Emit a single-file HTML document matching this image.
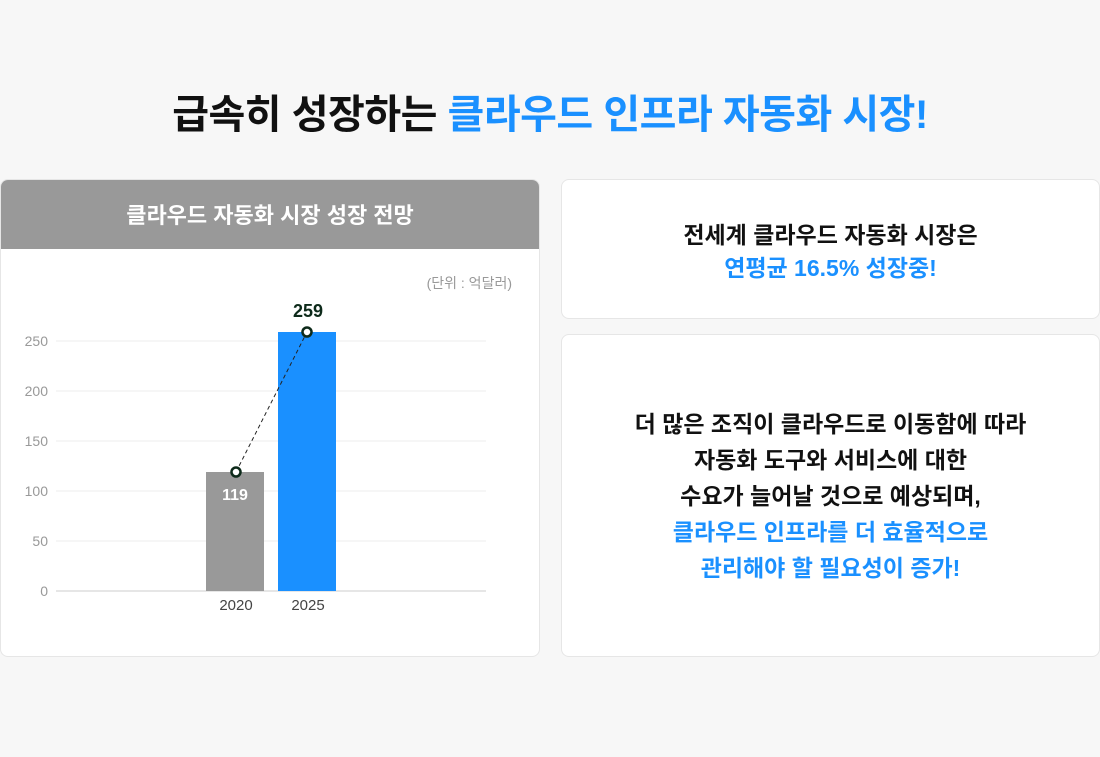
<!DOCTYPE html>
<html><head><meta charset="utf-8"><style>
body{margin:0;width:1100px;height:757px;background:#f7f7f7;font-family:"Liberation Sans","Noto Sans CJK KR",sans-serif;position:relative;overflow:hidden}
.t{position:absolute;left:0;width:1100px;top:82px;text-align:center;font-size:40px;font-weight:bold;color:#111;letter-spacing:-0.5px}
.b{color:#1a90ff}
.card{position:absolute;background:#fff;border:1px solid #e6e6e6;border-radius:8px;box-sizing:border-box;overflow:hidden}
.txt{position:absolute;left:0;right:0;text-align:center;font-weight:bold;color:#111;letter-spacing:0}
</style></head><body>
<div class="t">급속히 성장하는 <span class="b">클라우드 인프라 자동화 시장!</span></div>
<div class="card" style="left:0;top:179px;width:540px;height:478px">
<div style="height:69px;background:#999;color:#fff;font-size:22px;font-weight:bold;text-align:center;line-height:72px">클라우드 자동화 시장 성장 전망</div>
<svg width="540" height="410" style="position:absolute;left:0;top:69px" viewBox="1 249 540 410">
<text x="512" y="288" font-size="14" fill="#999" text-anchor="end" font-family="Liberation Sans,Noto Sans CJK KR,sans-serif">(단위 : 억달러)</text>
<g stroke="#ececec"><line x1="56" x2="486" y1="341" y2="341"/><line x1="56" x2="486" y1="391" y2="391"/><line x1="56" x2="486" y1="441" y2="441"/><line x1="56" x2="486" y1="491" y2="491"/><line x1="56" x2="486" y1="541" y2="541"/></g>
<line x1="56" x2="486" y1="591" y2="591" stroke="#ccc"/>
<g font-size="14" fill="#999" text-anchor="end" font-family="Liberation Sans,sans-serif"><text x="48" y="346">250</text><text x="48" y="396">200</text><text x="48" y="446">150</text><text x="48" y="496">100</text><text x="48" y="546">50</text><text x="48" y="596">0</text></g>
<rect x="206" y="472" width="58" height="119" fill="#999"/>
<rect x="278" y="332" width="58" height="259" fill="#1a90ff"/>
<line x1="236" y1="472" x2="307" y2="332" stroke="#222" stroke-dasharray="4,3"/>
<circle cx="236" cy="472" r="4.5" fill="#fff" stroke="#0d2a1a" stroke-width="2.5"/>
<circle cx="307" cy="332" r="4.5" fill="#fff" stroke="#0d2a1a" stroke-width="2.5"/>
<text x="235" y="500" font-size="16" font-weight="bold" fill="#fff" text-anchor="middle" font-family="Liberation Sans,sans-serif">119</text>
<text x="308" y="317" font-size="18" font-weight="bold" fill="#0d2a1a" text-anchor="middle" font-family="Liberation Sans,sans-serif">259</text>
<g font-size="15" fill="#444" text-anchor="middle" font-family="Liberation Sans,sans-serif"><text x="236" y="610">2020</text><text x="308" y="610">2025</text></g>
</svg></div>
<div class="card" style="left:561px;top:179px;width:539px;height:140px">
<div class="txt" style="top:39px;font-size:23px;line-height:33px">전세계 클라우드 자동화 시장은<br><span class="b">연평균 16.5% 성장중!</span></div>
</div>
<div class="card" style="left:561px;top:334px;width:539px;height:323px">
<div class="txt" style="top:71px;font-size:23px;line-height:36px">더 많은 조직이 클라우드로 이동함에 따라<br>자동화 도구와 서비스에 대한<br>수요가 늘어날 것으로 예상되며,<br><span class="b">클라우드 인프라를 더 효율적으로<br>관리해야 할 필요성이 증가!</span></div>
</div>
</body></html>
